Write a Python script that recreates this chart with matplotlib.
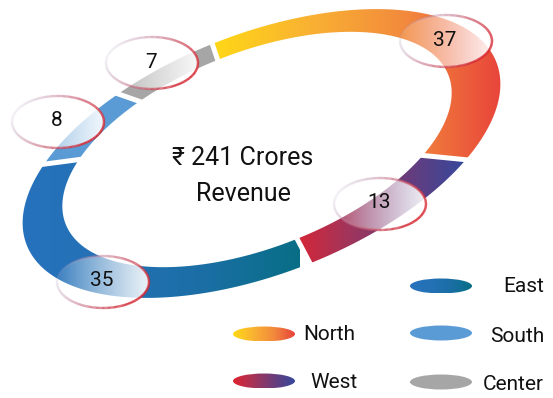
import matplotlib.pyplot as plt
import numpy as np
from matplotlib.patches import Polygon, Ellipse
from matplotlib.collections import LineCollection
from matplotlib.colors import LinearSegmentedColormap, to_rgb

plt.rcParams['font.family'] = ['Roboto', 'DejaVu Sans']

regions = ['North', 'West', 'East', 'South', 'Center']
revenue = [37, 13, 35, 8, 7]
center_text = '\u20b9 241 Crores\nRevenue'

# colour stops per region (left -> right across the screen)
region_colors = {
    'North': ['#ffd916', '#f9b232', '#f2893d', '#e8423a'],
    'West': ['#e0232f', '#a53459', '#6a3c7c', '#36489b'],
    'East': ['#2672bc', '#2471b6', '#1a6ea4', '#086e86'],
    'South': ['#5b9bd5'],
    'Center': ['#a6a6a6'],
}
grad_span = {'North': (210, 505), 'West': (285, 465), 'East': (18, 300)}

# ring geometry (pixel space, y down)
CX, CY = 261.5, 153.5
A, B = 252, 120
PHI = np.deg2rad(21.25)
R_IN = 0.815
IN_OFF = (-4.5, -4.0)
START = 91.3

label_pos = [(446, 41), (380, 204), (103, 282), (58, 122), (152, 63)]


def ring_xy(t, scale, off=(0, 0)):
    u = A * scale * np.cos(t)
    v = B * scale * np.sin(t)
    x = CX + off[0] + u * np.cos(PHI) - v * np.sin(PHI)
    y = CY + off[1] - (u * np.sin(PHI) + v * np.cos(PHI))
    return x, y


def gradient_fill(ax, patch, colors, x0, x1, y0, y1, zorder):
    cmap = LinearSegmentedColormap.from_list('g', colors)
    img = np.linspace(0, 1, 256).reshape(1, -1)
    im = ax.imshow(img, cmap=cmap, extent=(x0, x1, y1, y0), aspect='auto',
                   interpolation='bilinear', zorder=zorder)
    im.set_clip_path(patch)


fig = plt.figure(figsize=(5.53, 3.98), dpi=100)
ax = fig.add_axes([0, 0, 1, 1])
ax.set_xlim(0, 553)
ax.set_ylim(398, 0)
ax.axis('off')

total = sum(revenue)
bounds = START - np.cumsum([0] + revenue) / total * 360.0

for i, name in enumerate(regions):
    t = np.deg2rad(np.linspace(bounds[i], bounds[i + 1], 200))
    ox, oy = ring_xy(t, 1.0)
    ix, iy = ring_xy(t[::-1], R_IN, IN_OFF)
    pts = np.column_stack([np.r_[ox, ix], np.r_[oy, iy]])
    cols = region_colors[name]
    if len(cols) == 1:
        ax.add_patch(Polygon(pts, closed=True, facecolor=cols[0],
                             edgecolor='none', zorder=2))
    else:
        patch = Polygon(pts, closed=True, facecolor='none', edgecolor='none')
        ax.add_patch(patch)
        x0, x1 = grad_span[name]
        gradient_fill(ax, patch, cols, x0, x1, pts[:, 1].min() - 2,
                      pts[:, 1].max() + 2, zorder=2)

# white cuts between the segments
for b in bounds[:-1]:
    tb = np.deg2rad(b)
    x_in, y_in = ring_xy(tb, R_IN - 0.04, IN_OFF)
    x_out, y_out = ring_xy(tb, 1.04)
    ax.plot([x_in, x_out], [y_in, y_out], color='white', lw=3.6,
            solid_capstyle='butt', zorder=3)

# value bubbles
red = np.array(to_rgb('#d9232c'))
lav = np.array(to_rgb('#b9a6c6'))
EW, EH = 92, 52
for (px, py), val in zip(label_pos, revenue):
    ell = Ellipse((px, py), EW, EH, facecolor='none', edgecolor='none')
    ax.add_patch(ell)
    fill = np.ones((1, 256, 4))
    fill[0, :, 3] = np.linspace(0.05, 0.9, 256) ** 0.8
    im = ax.imshow(fill, extent=(px - EW / 2, px + EW / 2, py + EH / 2, py - EH / 2),
                   aspect='auto', interpolation='bilinear', zorder=4)
    im.set_clip_path(ell)

    th = np.linspace(0, 2 * np.pi, 241)
    ex = px + EW / 2 * np.cos(th)
    ey = py + EH / 2 * np.sin(th)
    segs = np.stack([np.column_stack([ex[:-1], ey[:-1]]),
                     np.column_stack([ex[1:], ey[1:]])], axis=1)
    thm = (th[:-1] + th[1:]) / 2
    w = (1 + np.cos(thm - np.deg2rad(20))) / 2
    rgba = np.zeros((len(w), 4))
    rgba[:, :3] = lav[None, :] * (1 - w[:, None]) + red[None, :] * w[:, None]
    rgba[:, 3] = 0.15 + 0.85 * w ** 0.7
    ax.add_collection(LineCollection(segs, colors=rgba, linewidths=1.7, zorder=5))
    ax.text(px - 1, py - 1, str(val), ha='center', va='center', fontsize=15,
            color='#111111', zorder=6)

ax.text(243, 176, center_text, ha='center', va='center', fontsize=18,
        color='#111111', linespacing=1.6, zorder=6)

# legend
legend_items = {
    'North': ((264, 334), (303, 334), 'left'),
    'West': ((264, 381), (310, 383), 'left'),
    'East': ((441, 286), (544, 286), 'right'),
    'South': ((441, 333), (544, 336), 'right'),
    'Center': ((441, 382), (544, 384), 'right'),
}
SW, SH = 62, 15
for name, ((sx, sy), (tx, ty), ha) in legend_items.items():
    cols = region_colors[name]
    if len(cols) == 1:
        ax.add_patch(Ellipse((sx, sy), SW, SH, facecolor=cols[0],
                             edgecolor='none', zorder=2))
    else:
        sw = Ellipse((sx, sy), SW, SH, facecolor='none', edgecolor='none')
        ax.add_patch(sw)
        gradient_fill(ax, sw, cols, sx - SW / 2, sx + SW / 2,
                      sy - SH / 2, sy + SH / 2, zorder=2)
    ax.text(tx, ty, name, ha=ha, va='center', fontsize=15, color='#111111')

ax.set_xlim(0, 553)
ax.set_ylim(398, 0)
fig.savefig('out.png', dpi=100)
